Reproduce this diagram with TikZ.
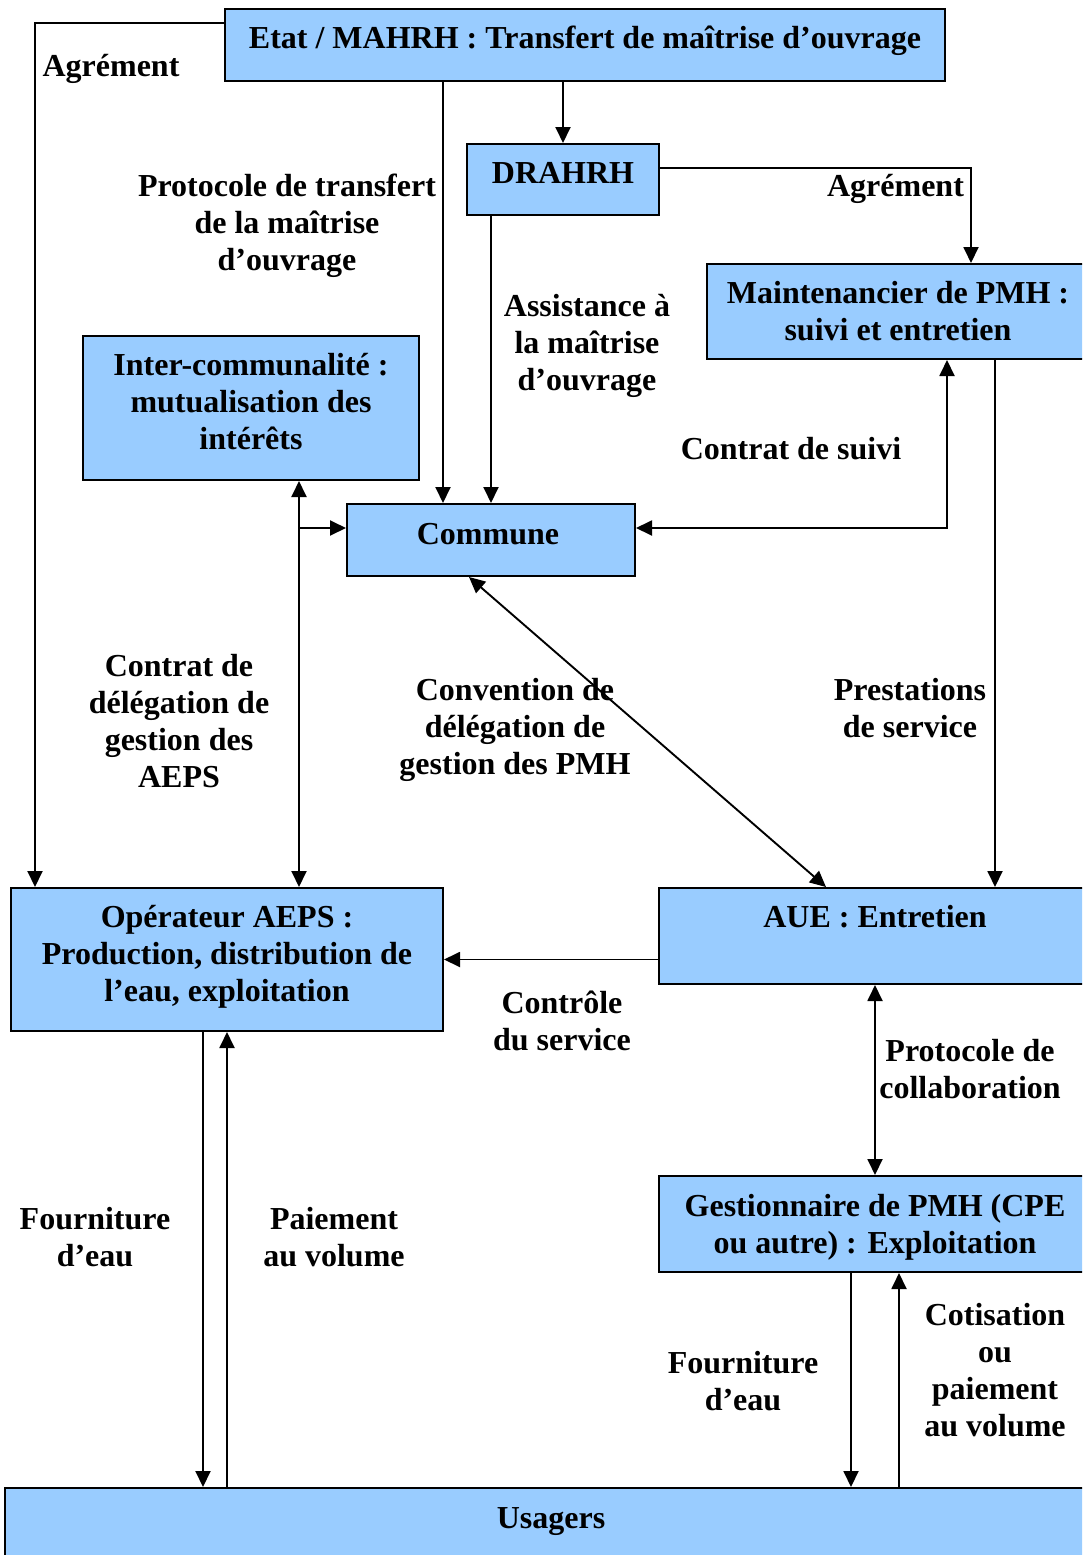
\documentclass[tikz,border=0pt]{standalone}
\usepackage{fontspec}
\setmainfont{Liberation Serif}
\usetikzlibrary{arrows.meta}

\tikzset{every picture/.style={line width=1.9pt}}
\tikzset{
  box/.style={draw, fill={rgb, 255:red, 153; green, 204; blue, 255 }, line width=2pt, inner sep=0pt},
  lbl/.style={inner sep=0pt, align=center, font=\bfseries\fontsize{32}{37}\selectfont},
  arr/.style={-{Triangle[length=16pt,width=15pt]}},
  arrs/.style={{Triangle[length=16pt,width=15pt]}-{Triangle[length=16pt,width=15pt]}},
}

\begin{document}
\begin{tikzpicture}[x=1pt,y=1pt,yscale=-1,xscale=1]
		\useasboundingbox (0,0) rectangle (1082,1555);
		\clip (0,0) rectangle (1082,1555);
		\fill [white] (0,0) rectangle (1082,1555);

		%Shape: Rectangle [Etat]
		\node [box, minimum width=720, minimum height=72] (etat) at (585,45) {};
		%Shape: Rectangle [DRAHRH]
		\node [box, minimum width=192, minimum height=71] (drahrh) at (563,179.5) {};
		%Shape: Rectangle [Maintenancier]
		\node [box, minimum width=382, minimum height=95] (maint) at (898,311.5) {};
		%Shape: Rectangle [Inter-communalite]
		\node [box, minimum width=336, minimum height=144] (inter) at (251,408) {};
		%Shape: Rectangle [Commune]
		\node [box, minimum width=288, minimum height=72] (commune) at (491,540) {};
		%Shape: Rectangle [Operateur]
		\node [box, minimum width=432, minimum height=143] (oper) at (227,959.5) {};
		%Shape: Rectangle [AUE]
		\node [box, minimum width=432, minimum height=96] (aue) at (875,936) {};
		%Shape: Rectangle [Gestionnaire]
		\node [box, minimum width=432, minimum height=96] (gest) at (875,1224) {};
		%Shape: Rectangle [Usagers]
		\node [box, minimum width=1092, minimum height=92] (usagers) at (551,1534) {};

		%Straight Lines [Etat - Operateur]
		\coordinate (agr-bend) at (35,23);
		\draw [arr] (etat.west |- agr-bend) -- (agr-bend) -- (agr-bend |- oper.north);
		%Straight Lines [Etat - Commune]
		\coordinate (proto-x) at (443,0);
		\draw [arr] (etat.south -| proto-x) -- (commune.north -| proto-x);
		%Straight Lines [Etat - DRAHRH]
		\draw [arr] (etat.south -| drahrh) -- (drahrh.north);
		%Straight Lines [DRAHRH - Maintenancier]
		\coordinate (agr2-bend) at (971,168);
		\draw [arr] (drahrh.east |- agr2-bend) -- (agr2-bend) -- (agr2-bend |- maint.north);
		%Straight Lines [DRAHRH - Commune]
		\draw [arr] (drahrh.south -| commune) -- (commune.north);
		%Straight Lines [Commune - Maintenancier]
		\coordinate (suivi-bend) at (947,528);
		\draw [arrs] (commune.east |- suivi-bend) -- (suivi-bend) -- (suivi-bend |- maint.south);
		%Straight Lines [Maintenancier - AUE]
		\coordinate (prest-x) at (995,0);
		\draw [arr] (maint.south -| prest-x) -- (aue.north -| prest-x);
		%Straight Lines [Inter-communalite - Operateur]
		\coordinate (deleg) at (299,528);
		\draw [arrs] (inter.south -| deleg) -- (oper.north -| deleg);
		\draw [arr] (deleg) -- (commune.west |- deleg);
		%Straight Lines [Commune - AUE]
		\coordinate (conv-a) at (469,0);
		\coordinate (conv-b) at (826,0);
		\draw [arrs] (commune.south -| conv-a) -- (aue.north -| conv-b);
		%Straight Lines [AUE - Operateur]
		\draw [arr] (aue.west |- oper.east) -- (oper.east);
		%Straight Lines [AUE - Gestionnaire]
		\draw [arrs] (aue.south) -- (gest.north);
		%Straight Lines [Operateur - Usagers]
		\coordinate (fourn1-x) at (203,0);
		\draw [arr] (oper.south -| fourn1-x) -- (usagers.north -| fourn1-x);
		\draw [arr] (usagers.north -| oper) -- (oper.south);
		%Straight Lines [Gestionnaire - Usagers]
		\coordinate (fourn2-x) at (851,0);
		\coordinate (cotis-x) at (899,0);
		\draw [arr] (gest.south -| fourn2-x) -- (usagers.north -| fourn2-x);
		\draw [arr] (usagers.north -| cotis-x) -- (gest.south -| cotis-x);

		% Text Node
		\node [lbl] (etat-t) at (585,41) {Etat / MAHRH : Transfert de maîtrise d’ouvrage};
		% Text Node
		\node [lbl] (drahrh-t) at (563,173) {DRAHRH};
		% Text Node
		\node [lbl] (maint-t) at (898,311) {Maintenancier de PMH :\\suivi et entretien};
		% Text Node
		\node [lbl] (inter-t) at (251,401.5) {Inter-communalité :\\mutualisation des\\intérêts};
		% Text Node
		\node [lbl] (commune-t) at (488,534) {Commune};
		% Text Node
		\node [lbl] (oper-t) at (227,957) {Opérateur AEPS :\\Production, distribution de\\l’eau, exploitation};
		% Text Node
		\node [lbl] (aue-t) at (875,916.5) {AUE : Entretien};
		% Text Node
		\node [lbl] (gest-t) at (875,1227.5) {Gestionnaire de PMH (CPE\\ou autre) : Exploitation};
		% Text Node
		\node [lbl] (usagers-t) at (551,1522) {Usagers};

		% Text Node
		\node [lbl] (agr1) at (111,69) {Agrément};
		% Text Node
		\node [lbl] (proto) at (287,226) {Protocole de transfert\\de la maîtrise\\d’ouvrage};
		% Text Node
		\node [lbl] (agr2) at (895.5,189) {Agrément};
		% Text Node
		\node [lbl] (assist) at (587,346) {Assistance à\\la maîtrise\\d’ouvrage};
		% Text Node
		\node [lbl] (suivi) at (791,449) {Contrat de suivi};
		% Text Node
		\node [lbl] (deleg-t) at (179,721) {Contrat de\\délégation de\\gestion des\\AEPS};
		% Text Node
		\node [lbl] (conv) at (515,730) {Convention de\\délégation de\\gestion des PMH};
		% Text Node
		\node [lbl] (prest) at (910,708) {Prestations\\de service};
		% Text Node
		\node [lbl] (controle) at (562,1021) {Contrôle\\du service};
		% Text Node
		\node [lbl] (collab) at (970,1069) {Protocole de\\collaboration};
		% Text Node
		\node [lbl] (fourn1) at (95,1237) {Fourniture\\d’eau};
		% Text Node
		\node [lbl] (paie) at (334,1237) {Paiement\\au volume};
		% Text Node
		\node [lbl] (fourn2) at (743,1381) {Fourniture\\d’eau};
		% Text Node
		\node [lbl] (cotis) at (995,1370) {Cotisation\\ou\\paiement\\au volume};

\end{tikzpicture}
\end{document}
